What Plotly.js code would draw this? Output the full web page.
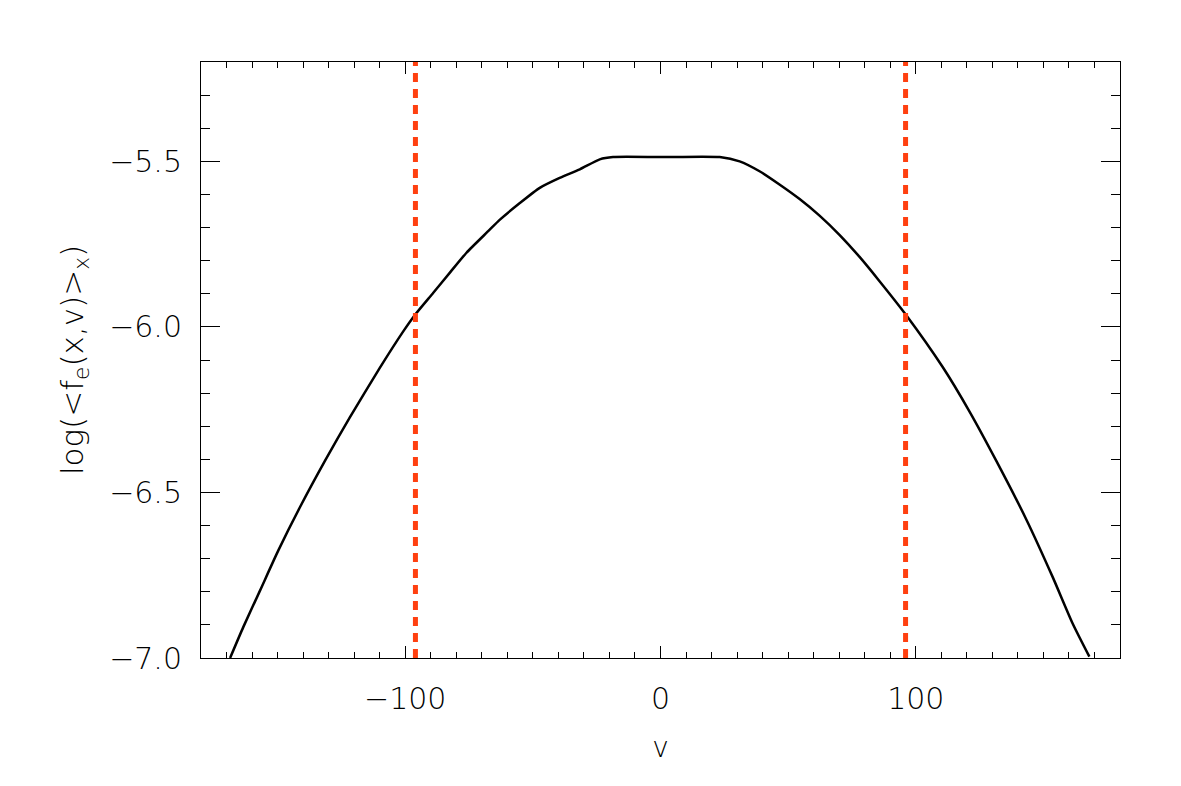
<!DOCTYPE html>
<html>
<head>
<meta charset="utf-8">
<script src="https://cdn.plot.ly/plotly-3.0.1.min.js"></script>
<style>
  html, body { margin: 0; padding: 0; background: #fff; }
  #chart { width: 1181px; height: 786px; }
</style>
</head>
<body>
<div id="chart"></div>
<script>
// averaged distribution
let v = [-168.6, -163.4, -156.8, -149.7, -141.2, -131.4, -121.7, -109.9, -100.9, -96.2, -89.0, -82.5,
         -76.0, -67.5, -62.9, -55.1, -47.3, -39.5, -31.6, -23.8, -18.6, 0, 23.2, 31.0, 38.8, 46.6,
         54.5, 62.3, 70.1, 77.9, 85.8, 96.2, 110.6, 121.0, 131.5, 143.2, 153.6, 161.4, 168.0];
let logF = [-7.0, -6.906, -6.795, -6.675, -6.544, -6.404, -6.273, -6.123, -6.015, -5.964, -5.897, -5.836,
            -5.776, -5.711, -5.676, -5.626, -5.580, -5.550, -5.524, -5.494, -5.487, -5.487, -5.487, -5.500, -5.530, -5.570,
            -5.614, -5.664, -5.722, -5.788, -5.862, -5.964, -6.122, -6.255, -6.404, -6.580, -6.755, -6.895, -6.996];

// vertical markers
let vMarks = [-96, 96];
let yRange = [-7.0, -5.2];

let fontFam = 'DejaVu Sans, Liberation Sans, sans-serif';

let curve = {
    x: v,
    y: logF,
    mode: 'lines',
    line: { color: 'black', width: 2.5, shape: 'spline', smoothing: 0.6 },
    showlegend: false,
    hoverinfo: 'skip'
};

let traces = [curve];
vMarks.forEach(function (xm) {
    traces.push({
        x: [xm, xm],
        y: yRange,
        mode: 'lines',
        line: { color: '#ff4010', width: 5, dash: '9px,7px' },
        showlegend: false,
        hoverinfo: 'skip'
    });
});

let layout = {
    width: 1181,
    height: 786,
    margin: { l: 201, r: 61, t: 62, b: 128 },
    paper_bgcolor: 'white',
    plot_bgcolor: 'white',
    font: { family: fontFam, size: 30, color: 'black', weight: 200 },
    xaxis: {
        range: [-180, 180],
        tick0: 0,
        dtick: 100,
        ticks: 'inside',
        ticklen: 12,
        tickwidth: 1,
        tickcolor: 'black',
        minor: { dtick: 10, ticks: 'inside', ticklen: 6, tickwidth: 1, tickcolor: 'black' },
        showline: true,
        linecolor: 'black',
        linewidth: 1,
        mirror: 'ticks',
        showgrid: false,
        zeroline: false,
        ticklabelstandoff: 14,
        tickfont: { family: fontFam, size: 30, color: 'black', weight: 200 },
        title: { text: 'v', standoff: 22, font: { family: fontFam, size: 28, color: 'black', weight: 200 } }
    },
    yaxis: {
        range: yRange,
        tick0: -7,
        dtick: 0.5,
        tickformat: '.1f',
        ticks: 'inside',
        ticklen: 19,
        tickwidth: 1,
        tickcolor: 'black',
        minor: { dtick: 0.1, ticks: 'inside', ticklen: 9, tickwidth: 1, tickcolor: 'black' },
        showline: true,
        linecolor: 'black',
        linewidth: 1,
        mirror: 'ticks',
        showgrid: false,
        zeroline: false,
        ticklabelstandoff: 12,
        tickfont: { family: fontFam, size: 30, color: 'black', weight: 200 },
        title: {
            text: 'log(&lt;f<sub>e</sub>(x,v)&gt;<sub>x</sub>)',
            standoff: 16,
            font: { family: fontFam, size: 31, color: 'black', weight: 200 }
        }
    }
};

Plotly.newPlot('chart', traces, layout, { displayModeBar: false, staticPlot: true });
</script>
</body>
</html>
